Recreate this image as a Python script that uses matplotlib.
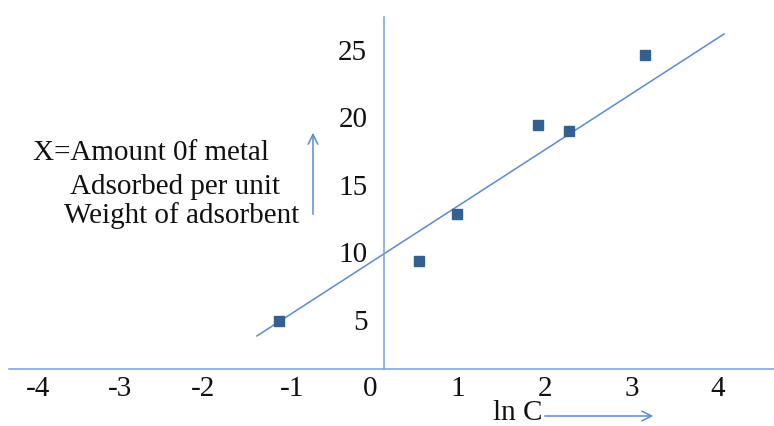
import matplotlib
matplotlib.use("Agg")
import matplotlib.pyplot as plt

# ── data ──────────────────────────────────────────────────────────────────────
ln_c = [-1.05, 0.56, 1.00, 1.93, 2.29, 3.16]
x_ads = [4.9, 9.3, 12.8, 19.4, 19.0, 24.6]

# straight line drawn through the points (end points)
fit_x = [-1.30, 4.07]
fit_y = [3.78, 26.15]

x_tick_labels = ["-4", "-3", "-2", "-1", "0", "1", "2", "3", "4"]
y_ticks = [5, 10, 15, 20, 25]

# ── style ─────────────────────────────────────────────────────────────────────
SERIF = "Liberation Serif"
LINE = "#5b8bd0"
MARK = "#34608f"
AXIS = "#7a9fd6"
TXT = "#111111"
FS = 21

fig = plt.figure(figsize=(7.74, 4.26), dpi=100, facecolor="white")
ax = fig.add_axes([0, 0, 1, 1])
ax.set_xlim(-4.253, 4.644)
ax.set_ylim(-2.889, 28.667)
ax.set_facecolor("white")

# axes cross near the origin
for side in ("top", "right"):
    ax.spines[side].set_visible(False)
ax.spines["left"].set_position(("data", 0.161))
ax.spines["left"].set_bounds(1.333, 27.41)
ax.spines["bottom"].set_position(("data", 1.333))
ax.spines["bottom"].set_bounds(-4.149, 4.644)
for side in ("left", "bottom"):
    ax.spines[side].set_color(AXIS)
    ax.spines[side].set_linewidth(1.1)

# tick labels sit a little unevenly along the x axis
ax.set_xticks([-3.82, -2.87, -1.92, -0.90, 0.0, 1.01, 2.01, 3.01, 4.0],
              x_tick_labels)
ax.set_yticks(y_ticks, [str(v) for v in y_ticks])
ax.tick_params(axis="x", length=0, pad=5)
ax.tick_params(axis="y", length=0, pad=12)
for lbl in ax.get_xticklabels() + ax.get_yticklabels():
    lbl.set_fontfamily(SERIF)
    lbl.set_fontsize(FS)
    lbl.set_color(TXT)

# fit line + measured points
ax.plot(fit_x, fit_y, color=LINE, linewidth=1.1, zorder=2)
ax.plot(ln_c, x_ads, linestyle="none", marker="s", markersize=7.2,
        color=MARK, markeredgecolor=MARK, zorder=3)

# y-axis caption with an upward arrow
for s, x0, y0 in [("X=Amount 0f metal", 33, 160),
                  ("Adsorbed per unit", 70, 194),
                  ("Weight of adsorbent", 64, 223)]:
    ax.annotate(s, xy=(x0, 426 - y0), xycoords="figure pixels",
                fontfamily=SERIF, fontsize=FS, color=TXT, va="baseline")

ax.annotate("", xy=(313, 426 - 130), xycoords="figure pixels",
            xytext=(313, 426 - 217), textcoords="figure pixels",
            arrowprops=dict(arrowstyle="->,head_length=0.7,head_width=0.35",
                            color=LINE, linewidth=1.1))

# x-axis caption with a rightward arrow
ax.annotate("ln C", xy=(493, 426 - 420), xycoords="figure pixels",
            fontfamily=SERIF, fontsize=FS, color=TXT, va="baseline")
ax.annotate("", xy=(656, 426 - 416), xycoords="figure pixels",
            xytext=(542, 426 - 416), textcoords="figure pixels",
            arrowprops=dict(arrowstyle="->,head_length=0.7,head_width=0.35",
                            color=LINE, linewidth=1.1))

fig.savefig("out.png", dpi=100, facecolor="white")
